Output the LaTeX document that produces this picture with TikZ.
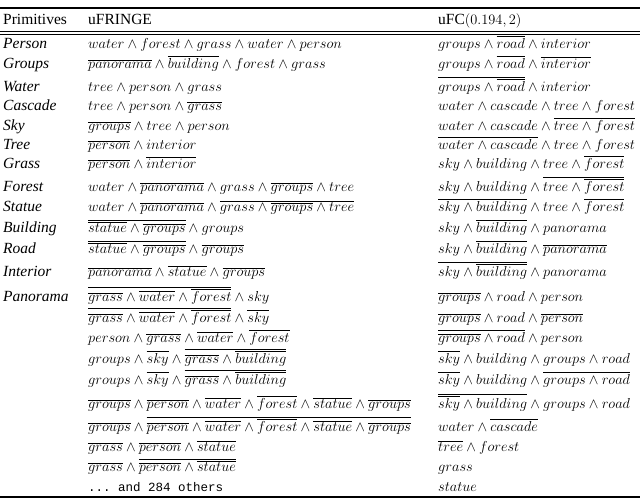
\documentclass[tikz,border=0pt]{standalone}
\usepackage{fontspec}
\setmainfont{Liberation Serif}
\setmonofont{Liberation Mono}
\newcommand{\olx}[1]{\overline{#1}}
\newcommand{\w}{\wedge}
\begin{document}
\begin{tikzpicture}[x=1pt,y=-1pt,
  cell/.style={anchor=base west,inner sep=0pt,font=\fontsize{13.6}{15}\selectfont},
  head/.style={anchor=base west,inner sep=0pt,font=\fontsize{15.5}{17}\selectfont},
  prim/.style={anchor=base west,inner sep=0pt,font=\fontsize{15.5}{17}\selectfont\itshape}]
\useasboundingbox (0,0) rectangle (640,498);
\draw[line width=1.2pt] (0,8) -- (640,8);
\draw[line width=0.5pt] (0,31.5) -- (640,31.5);
\draw[line width=0.5pt] (0,34) -- (640,34);
\draw[line width=1.2pt] (0,497) -- (640,497);
\node[head] (h1) at (3,24) {Primitives};
\node[head] (h2) at (88,24) {uFRINGE};
\node[head] (h3) at (438,24) {uFC$(0.194,2)$};
% primitives
\foreach \n/\t/\y in {p1/Person/48,p2/Groups/68,p3/Water/91,p4/Cascade/110,p5/Sky/130,p6/Tree/149,p7/Grass/168,p8/Forest/191,p9/Statue/211,p10/Building/232,p11/Road/253,p12/Interior/276,p13/Panorama/301}
  \node[prim] (\n) at (3,\y) {\t};
% uFRINGE
\node[cell] (a1) at (88,48) {$water\w forest\w grass\w water\w person$};
\node[cell] (a2) at (88,68) {$\olx{panorama}\w\olx{building}\w forest\w grass$};
\node[cell] (a3) at (88,91) {$tree\w person\w grass$};
\node[cell] (a4) at (88,110) {$tree\w person\w\olx{grass}$};
\node[cell] (a5) at (88,130) {$\olx{groups}\w tree\w person$};
\node[cell] (a6) at (88,149) {$\olx{person}\w interior$};
\node[cell] (a7) at (88,168) {$\olx{person}\w\olx{interior}$};
\node[cell] (a8) at (88,191) {$water\w\olx{panorama}\w grass\w\olx{groups}\w tree$};
\node[cell] (a9) at (88,211) {$water\w\olx{panorama}\w\olx{grass\w\olx{groups}\w tree}$};
\node[cell] (a10) at (88,232) {$\olx{\olx{statue}\w\olx{groups}}\w groups$};
\node[cell] (a11) at (88,253) {$\olx{\olx{statue}\w\olx{groups}}\w\olx{groups}$};
\node[cell] (a12) at (88,276) {$\olx{panorama}\w\olx{statue}\w\olx{groups}$};
\node[cell] (a13) at (88,301) {$\olx{\olx{grass}\w\olx{water}\w\olx{forest}}\w sky$};
\node[cell] (a14) at (88,322) {$\olx{\olx{grass}\w\olx{water}\w\olx{forest}}\w\olx{sky}$};
\node[cell] (a15) at (88,342) {$person\w\olx{grass}\w\olx{water}\w\olx{forest}$};
\node[cell] (a16) at (88,363) {$groups\w\olx{sky}\w\olx{\olx{grass}\w\olx{building}}$};
\node[cell] (a17) at (88,384) {$groups\w\olx{sky}\w\olx{\olx{grass}\w\olx{building}}$};
\node[cell] (a18) at (88,408) {$\olx{groups}\w\olx{person}\w\olx{water}\w\olx{forest}\w\olx{statue}\w\olx{groups}$};
\node[cell] (a19) at (88,431) {$\olx{groups}\w\olx{\olx{person}\w\olx{water}\w\olx{forest}\w\olx{statue}\w\olx{groups}}$};
\node[cell] (a20) at (88,451) {$\olx{grass}\w\olx{person}\w\olx{statue}$};
\node[cell] (a21) at (88,471) {$\olx{grass}\w\olx{\olx{person}\w\olx{statue}}$};
\node[cell,font=\fontsize{12.5}{14}\ttfamily] (a22) at (88,491) {... and 284 others};
% uFC
\node[cell] (b1) at (438,48) {$groups\w\olx{road}\w interior$};
\node[cell] (b2) at (438,68) {$groups\w\olx{road}\w\olx{interior}$};
\node[cell] (b3) at (438,91) {$\olx{groups\w\olx{road}}\w interior$};
\node[cell] (b4) at (438,110) {$water\w cascade\w tree\w forest$};
\node[cell] (b5) at (438,130) {$water\w cascade\w\olx{tree\w forest}$};
\node[cell] (b6) at (438,149) {$\olx{water\w cascade}\w tree\w forest$};
\node[cell] (b7) at (438,168) {$sky\w building\w tree\w\olx{forest}$};
\node[cell] (b8) at (438,191) {$sky\w building\w\olx{tree\w\olx{forest}}$};
\node[cell] (b9) at (438,211) {$\olx{sky\w building}\w tree\w\olx{forest}$};
\node[cell] (b10) at (438,232) {$sky\w\olx{building}\w panorama$};
\node[cell] (b11) at (438,253) {$sky\w\olx{building}\w\olx{panorama}$};
\node[cell] (b12) at (438,276) {$\olx{sky\w\olx{building}}\w panorama$};
\node[cell] (b13) at (438,301) {$\olx{groups}\w road\w person$};
\node[cell] (b14) at (438,322) {$\olx{groups}\w road\w\olx{person}$};
\node[cell] (b15) at (438,342) {$\olx{\olx{groups}\w road}\w person$};
\node[cell] (b16) at (438,363) {$\olx{sky}\w building\w groups\w road$};
\node[cell] (b17) at (438,384) {$\olx{sky}\w building\w\olx{groups\w road}$};
\node[cell] (b18) at (438,408) {$\olx{\olx{sky}\w building}\w groups\w road$};
\node[cell] (b19) at (438,431) {$water\w\olx{cascade}$};
\node[cell] (b20) at (438,451) {$\olx{tree}\w forest$};
\node[cell] (b21) at (438,471) {$grass$};
\node[cell] (b22) at (438,491) {$statue$};
\end{tikzpicture}
\end{document}
